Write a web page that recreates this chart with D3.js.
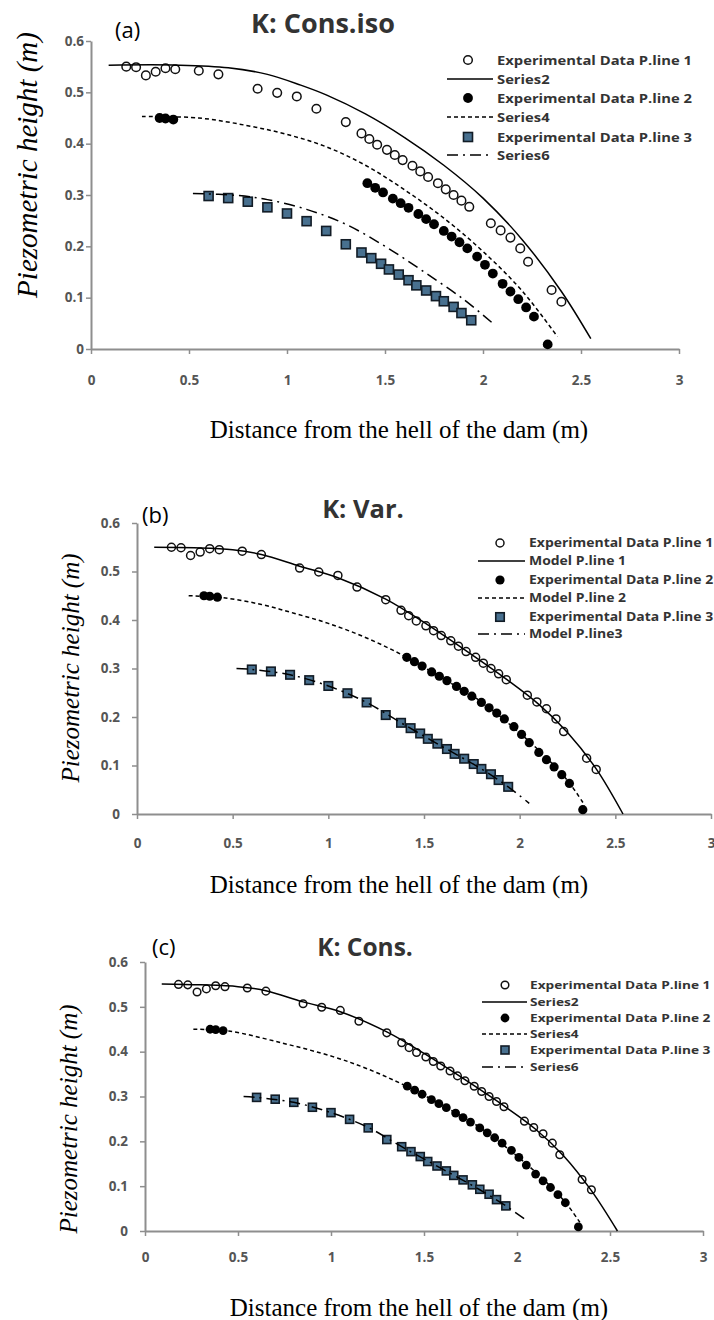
<!DOCTYPE html>
<html>
<head>
<meta charset="utf-8">
<script src="https://cdn.jsdelivr.net/npm/d3@7/dist/d3.min.js"></script>
<style>
  body { margin: 0; background: #fff; overflow: hidden; }
  svg { display: block; }
</style>
</head>
<body>
<svg id="chart" width="714" height="1320"></svg>
<script>
// tick values shared by the three panels
const xTicks = [0, 0.5, 1, 1.5, 2, 2.5, 3];
const yTicks = [0, 0.1, 0.2, 0.3, 0.4, 0.5, 0.6];

// experimental piezometric lines (same measurements in every panel)
const exp1X = [0.18, 0.23, 0.28, 0.33, 0.38, 0.43, 0.55, 0.65, 0.85, 0.95, 1.05, 1.15, 1.30, 1.38, 1.42, 1.46, 1.51, 1.55, 1.59, 1.64, 1.68, 1.72, 1.77, 1.81, 1.85, 1.89, 1.93, 2.04, 2.09, 2.14, 2.19, 2.23, 2.35, 2.40];
const exp1Y = [0.550, 0.549, 0.533, 0.540, 0.547, 0.545, 0.542, 0.535, 0.507, 0.499, 0.492, 0.468, 0.442, 0.420, 0.409, 0.398, 0.388, 0.378, 0.368, 0.357, 0.346, 0.335, 0.323, 0.311, 0.300, 0.289, 0.277, 0.245, 0.231, 0.217, 0.196, 0.170, 0.115, 0.092];
const exp2X = [0.35, 0.38, 0.42, 1.41, 1.45, 1.49, 1.54, 1.58, 1.62, 1.67, 1.71, 1.75, 1.80, 1.84, 1.88, 1.92, 1.97, 2.01, 2.05, 2.10, 2.14, 2.18, 2.22, 2.26, 2.33];
const exp2Y = [0.450, 0.449, 0.447, 0.323, 0.314, 0.305, 0.293, 0.284, 0.275, 0.263, 0.253, 0.243, 0.230, 0.219, 0.208, 0.196, 0.180, 0.164, 0.147, 0.127, 0.112, 0.097, 0.081, 0.063, 0.009];
const exp3X = [0.60, 0.70, 0.80, 0.90, 1.00, 1.10, 1.20, 1.30, 1.38, 1.43, 1.48, 1.52, 1.57, 1.62, 1.66, 1.71, 1.76, 1.80, 1.85, 1.89, 1.94];
const exp3Y = [0.298, 0.294, 0.287, 0.276, 0.264, 0.249, 0.230, 0.204, 0.188, 0.177, 0.166, 0.155, 0.145, 0.134, 0.124, 0.114, 0.103, 0.093, 0.082, 0.070, 0.056];

// model curves, panel (a) K: Cons.iso
const isoModel1 = [[0.09, 0.553], [0.45, 0.553], [0.7, 0.548], [0.9, 0.535], [1.07, 0.514], [1.2, 0.495], [1.4, 0.458], [1.6, 0.412], [1.8, 0.358], [2.0, 0.294], [2.2, 0.213], [2.4, 0.112], [2.55, 0.02]];
const isoModel2 = [[0.26, 0.453], [0.55, 0.45], [0.8, 0.435], [1.0, 0.418], [1.2, 0.394], [1.4, 0.358], [1.6, 0.31], [1.8, 0.255], [2.0, 0.19], [2.2, 0.113], [2.38, 0.024]];
const isoModel3 = [[0.52, 0.303], [0.75, 0.299], [0.9, 0.291], [1.1, 0.272], [1.3, 0.243], [1.5, 0.2], [1.7, 0.15], [1.9, 0.097], [2.05, 0.05]];

// model curves, panel (b) K: Var.
const varModel1 = [[0.09, 0.55], [0.3, 0.549], [0.5, 0.545], [0.65, 0.535], [0.85, 0.511], [1.05, 0.487], [1.3, 0.443], [1.5, 0.395], [1.7, 0.342], [1.93, 0.278], [2.1, 0.226], [2.25, 0.168], [2.4, 0.093], [2.54, 0.0]];
const varModel2 = [[0.27, 0.45], [0.45, 0.446], [0.65, 0.432], [0.82, 0.414], [1.0, 0.393], [1.2, 0.363], [1.4, 0.325], [1.6, 0.279], [1.8, 0.231], [2.0, 0.167], [2.15, 0.112], [2.26, 0.064], [2.34, 0.018]];
const varModel3 = [[0.52, 0.3], [0.6, 0.298], [0.8, 0.287], [1.0, 0.264], [1.2, 0.23], [1.38, 0.188], [1.6, 0.138], [1.8, 0.093], [1.94, 0.056], [2.05, 0.022]];

// model curves, panel (c) K: Cons.
const consModel1 = [[0.09, 0.551], [0.3, 0.549], [0.5, 0.545], [0.65, 0.536], [0.85, 0.511], [1.05, 0.489], [1.3, 0.444], [1.5, 0.396], [1.7, 0.343], [1.93, 0.279], [2.1, 0.227], [2.25, 0.168], [2.4, 0.09], [2.54, 0.0]];
const consModel2 = [[0.26, 0.45], [0.45, 0.446], [0.74, 0.419], [1.01, 0.389], [1.2, 0.361], [1.39, 0.326], [1.6, 0.28], [1.8, 0.231], [2.0, 0.167], [2.15, 0.112], [2.26, 0.064], [2.34, 0.018]];
const consModel3 = [[0.53, 0.3], [0.6, 0.298], [0.8, 0.287], [1.0, 0.264], [1.2, 0.231], [1.38, 0.188], [1.6, 0.138], [1.8, 0.092], [1.94, 0.056], [2.05, 0.024]];

// legend texts
const legendIso = ['Experimental Data P.line 1', 'Series2', 'Experimental Data P.line 2', 'Series4', 'Experimental Data P.line 3', 'Series6'];
const legendVar = ['Experimental Data P.line 1', 'Model P.line 1', 'Experimental Data P.line 2', 'Model P.line 2', 'Experimental Data P.line 3', 'Model P.line3'];
const legendCons = ['Experimental Data P.line 1', 'Series2', 'Experimental Data P.line 2', 'Series4', 'Experimental Data P.line 3', 'Series6'];

const xTitle = 'Distance from the hell of the dam (m)';
const yTitle = 'Piezometric height (m)';

const axisColor = '#8e8e8e';
const tickColor = '#555';
const squareFill = '#48708f';
const squareStroke = '#121c26';
const lineStyles = [null, '4,3', '11,5,2,5'];

const svg = d3.select('#chart');

const panels = [
  { tag: '(a)', title: 'K: Cons.iso', legend: legendIso, models: [isoModel1, isoModel2, isoModel3],
    xr: [91, 679], yr: [349, 41], xPad: 21, yPad: 2, tickFont: 13.5,
    titleX: 323, titleY: 33, titleFont: 27, tagX: 115, tagY: 38, tagFont: 22,
    yTitleX: 27, yTitleY: 165, yTitleFont: 29, xTitleX: 399, xTitleY: 430, xTitleFont: 25,
    legX: 468, legTextX: 497, legLine: [447, 493], legRows: [60, 79, 98, 117, 137, 155],
    legFont: 13.2, legStretch: 1.12, r: 4.3, sq: 9 },
  { tag: '(b)', title: 'K: Var.', legend: legendVar, models: [varModel1, varModel2, varModel3],
    xr: [137, 711], yr: [814, 523], xPad: 19, yPad: 12, tickFont: 13.5,
    titleX: 363, titleY: 518, titleFont: 25.5, tagX: 142, tagY: 523, tagFont: 22,
    yTitleX: 70, yTitleY: 668, yTitleFont: 25, xTitleX: 399, xTitleY: 885, xTitleFont: 25,
    legX: 500, legTextX: 529, legLine: [478, 525], legRows: [543, 561, 580, 598, 617, 634],
    legFont: 12.8, legStretch: 1.09, r: 4, sq: 8.5 },
  { tag: '(c)', title: 'K: Cons.', legend: legendCons, models: [consModel1, consModel2, consModel3],
    xr: [145, 703], yr: [1231, 962], xPad: 16, yPad: 12, tickFont: 13.5,
    titleX: 365, titleY: 956, titleFont: 24.5, tagX: 152, tagY: 955, tagFont: 22,
    yTitleX: 68, yTitleY: 1119, yTitleFont: 25, xTitleX: 419, xTitleY: 1308, xTitleFont: 25,
    legX: 505, legTextX: 530, legLine: [482, 527], legRows: [985, 1002, 1018, 1034, 1050, 1067],
    legFont: 11.4, legStretch: 1.2, r: 3.8, sq: 8 }
];

function styleAxis(sel, p) {
  sel.select('.domain').attr('stroke', axisColor).attr('stroke-width', 2);
  sel.selectAll('.tick line').attr('stroke', axisColor).attr('stroke-width', 1.5);
  sel.selectAll('.tick text')
    .attr('fill', tickColor)
    .style('font-family', '"Open Sans", sans-serif')
    .style('font-weight', 'bold')
    .style('font-size', p.tickFont + 'px');
}

function drawMarker(g, kind, cx, cy, p) {
  if (kind === 0) {
    g.append('circle').attr('cx', cx).attr('cy', cy).attr('r', p.r)
      .attr('fill', '#fff').attr('stroke', '#111').attr('stroke-width', 1.5);
  } else if (kind === 1) {
    g.append('circle').attr('cx', cx).attr('cy', cy).attr('r', p.r + 0.6)
      .attr('fill', '#000');
  } else {
    g.append('rect').attr('x', cx - p.sq / 2).attr('y', cy - p.sq / 2)
      .attr('width', p.sq).attr('height', p.sq)
      .attr('fill', squareFill).attr('stroke', squareStroke).attr('stroke-width', 1.6);
  }
}

function drawPanel(p) {
  const x = d3.scaleLinear().domain([0, 3]).range(p.xr);
  const y = d3.scaleLinear().domain([0, 0.6]).range(p.yr);
  const g = svg.append('g');

  g.append('g')
    .attr('transform', `translate(0,${p.yr[0]})`)
    .call(d3.axisBottom(x).tickValues(xTicks).tickSize(5).tickSizeOuter(0)
      .tickPadding(p.xPad).tickFormat(d3.format('')))
    .call(s => styleAxis(s, p));

  g.append('g')
    .attr('transform', `translate(${p.xr[0]},0)`)
    .call(d3.axisLeft(y).tickValues(yTicks).tickSize(5).tickSizeOuter(0)
      .tickPadding(p.yPad).tickFormat(d3.format('')))
    .call(s => styleAxis(s, p));

  const line = d3.line()
    .x(d => x(d[0]))
    .y(d => y(d[1]))
    .curve(d3.curveCatmullRom.alpha(0.5));

  const series = [
    d3.zip(exp1X, exp1Y),
    d3.zip(exp2X, exp2Y),
    d3.zip(exp3X, exp3Y)
  ];

  // Excel order: experimental markers, then the matching model line
  series.forEach((pts, i) => {
    const mg = g.append('g');
    pts.forEach(d => drawMarker(mg, i, x(d[0]), y(d[1]), p));
    g.append('path')
      .datum(p.models[i])
      .attr('d', line)
      .attr('fill', 'none')
      .attr('stroke', '#000')
      .attr('stroke-width', 1.5)
      .attr('stroke-dasharray', lineStyles[i]);
  });

  // legend (Calibri-like text: a bit wider than Open Sans, so stretch it)
  p.legend.forEach((txt, k) => {
    const ry = p.legRows[k];
    const idx = Math.floor(k / 2);
    if (k % 2 === 0) {
      drawMarker(g, idx, p.legX, ry, p);
    } else {
      g.append('line')
        .attr('x1', p.legLine[0]).attr('x2', p.legLine[1])
        .attr('y1', ry).attr('y2', ry)
        .attr('stroke', '#000').attr('stroke-width', 1.5)
        .attr('stroke-dasharray', lineStyles[idx]);
    }
    const t = g.append('text')
      .attr('x', p.legTextX).attr('y', ry).attr('dy', '0.35em')
      .attr('fill', '#333')
      .style('font-family', '"Open Sans", sans-serif')
      .style('font-weight', 'bold')
      .style('font-size', p.legFont + 'px')
      .text(txt);
    const w = t.node().getComputedTextLength();
    t.attr('textLength', w * p.legStretch).attr('lengthAdjust', 'spacingAndGlyphs');
  });

  g.append('text')
    .attr('x', p.titleX).attr('y', p.titleY)
    .attr('text-anchor', 'middle')
    .attr('fill', '#333')
    .style('font-family', '"Open Sans", sans-serif')
    .style('font-weight', 'bold')
    .style('font-size', p.titleFont + 'px')
    .text(p.title);

  g.append('text')
    .attr('x', p.tagX).attr('y', p.tagY)
    .attr('fill', '#000')
    .style('font-family', '"Open Sans", sans-serif')
    .style('font-size', p.tagFont + 'px')
    .text(p.tag);

  g.append('text')
    .attr('transform', `translate(${p.yTitleX},${p.yTitleY}) rotate(-90)`)
    .attr('text-anchor', 'middle')
    .attr('dy', '0.35em')
    .style('font-family', '"Liberation Serif", "Times New Roman", serif')
    .style('font-style', 'italic')
    .style('font-size', p.yTitleFont + 'px')
    .text(yTitle);

  g.append('text')
    .attr('x', p.xTitleX).attr('y', p.xTitleY)
    .attr('text-anchor', 'middle')
    .attr('dy', '0.32em')
    .style('font-family', '"Liberation Serif", "Times New Roman", serif')
    .style('font-size', p.xTitleFont + 'px')
    .text(xTitle);
}

panels.forEach(drawPanel);
</script>
</body>
</html>
